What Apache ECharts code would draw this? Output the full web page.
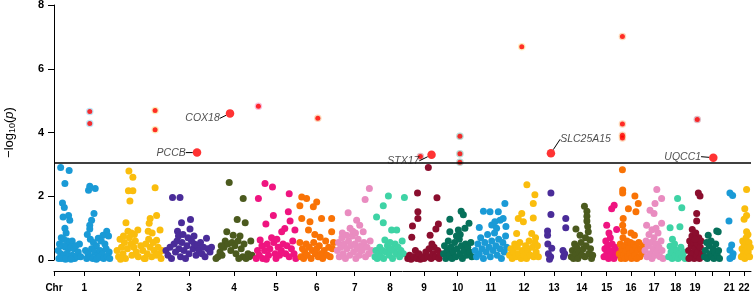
<!DOCTYPE html>
<html>
<head>
<meta charset="utf-8">
<script src="https://cdn.jsdelivr.net/npm/echarts@6/dist/echarts.min.js"></script>
<style>
	html, body { margin: 0; padding: 0; background: #fff; }
	#chart { width: 754px; height: 293px; }
</style>
</head>
<body>
<div id="chart"></div>
<script>
	// span of each chromosome along the genome axis (relative units)
	var chrLen = [60.6, 49.4, 50, 40, 44, 37.4, 38.6, 32, 36, 31.4, 34.6, 32, 28, 27.4, 22.6, 26, 20, 23.4, 15.2, 18.8, 15.8, 13.8]
	var chrColor = ['#1a9ad6', '#fabd0d', '#4a2c99', '#4b5a1e', '#ef1480', '#f97306', '#e98cc0', '#3ed3a5', '#8b0e2e', '#06705a']

	// [position along chromosome in %, -log10(p)]
	var chr1 = [[11,2.9],[25,2.81],[18,2.4],[14,1.79],[17,1.65],[15,1.35],[24,1.4],[26,1.25],[18,1.0],[20,0.85],[12,0.7],[16,0.65],[22,0.6],[26,0.55],[30,0.6],[9,0.5],[14,0.45],[19,0.4],[24,0.35],[28,0.4],[33,0.35],[36,0.45],[7,0.3],[11,0.2],[16,0.15],[21,0.2],[25,0.1],[30,0.15],[34,0.05],[38,0.1],[8,0.05],[13,0.05],[19,0.02],[28,0.02],[42,0.5],[40,0.25],[44,0.1],
		[57,2.19],[59,2.31],[68,2.24],[66,1.46],[62,1.25],[59,1.09],[59,0.97],[73,0.68],[87,0.9],[81,0.78],[55,0.8],[60,0.65],[65,0.55],[70,0.45],[78,0.6],[84,0.5],[90,0.75],[52,0.3],[56,0.2],[62,0.35],[67,0.25],[72,0.15],[76,0.3],[80,0.2],[86,0.35],[91,0.25],[54,0.05],[60,0.1],[64,0.05],[70,0.02],[75,0.08],[82,0.05],[88,0.1],[92,0.05]]
	var chr2 = [[11,0.65],[28,2.17],[29,2.79],[37,2.6],[37,2.17],[31,1.85],[23,1.17],[82,2.27],[72,1.3],[85,1.4],[70,1.15],[47,0.94],[92,0.94],[85,0.62],
		[5,0.3],[8,0.1],[14,0.4],[17,0.2],[20,0.55],[22,0.05],[26,0.35],[30,0.7],[33,0.5],[35,0.15],[39,0.4],[42,0.6],[44,0.25],[48,0.1],[40,0.8],[34,0.85],[27,0.9],[18,0.75],[53,0.45],[57,0.3],[60,0.05],[63,0.5],[66,0.2],[69,0.65],[72,0.4],[75,0.1],[78,0.55],[80,0.3],[84,0.15],[88,0.4],[90,0.2],[94,0.05],[96,0.3],[76,0.85],[68,0.9],[62,0.05],[12,0.02]]
	var chr3 = [[17,1.96],[32,1.96],[35,1.17],[53,1.27],[52,0.97],[27,0.9],[85,0.68],
		[4,0.3],[8,0.15],[12,0.4],[15,0.05],[20,0.5],[23,0.25],[26,0.6],[30,0.35],[33,0.1],[36,0.55],[40,0.3],[43,0.05],[46,0.45],[50,0.2],[55,0.6],[58,0.35],[61,0.5],[64,0.15],[67,0.45],[70,0.3],[73,0.55],[76,0.2],[79,0.4],[82,0.1],[88,0.35],[92,0.25],[95,0.4],[29,0.75],[38,0.8],[48,0.7],[60,0.75]]
	var chr4 = [[38,2.43],[73,1.93],[58,1.27],[78,1.17],[32,0.89],[48,0.78],[65,0.75],
		[5,0.05],[10,0.1],[15,0.25],[20,0.15],[25,0.4],[28,0.6],[35,0.5],[42,0.3],[45,0.55],[52,0.45],[55,0.2],[60,0.6],[68,0.35],[72,0.1],[75,0.5],[80,0.05],[85,0.2],[88,0.1],[92,0.6],[95,0.15],[18,0.45],[62,0.05]]
	var chr5 = [[25,2.4],[42,2.29],[10,1.93],[80,2.08],[78,1.51],[44,1.4],[82,1.22],[27,1.13],[63,0.89],[70,0.99],[93,0.94],[14,0.63],[40,0.7],
		[5,0.05],[8,0.3],[12,0.15],[18,0.45],[20,0.05],[24,0.3],[30,0.5],[33,0.15],[36,0.35],[45,0.55],[48,0.2],[50,0.05],[55,0.4],[58,0.15],[62,0.3],[66,0.5],[72,0.2],[75,0.45],[80,0.1],[85,0.35],[88,0.6],[91,0.2],[95,0.05],[28,0.02],[52,0.65]]
	var chr6 = [[10,1.98],[23,1.93],[50,1.82],[41,1.67],[5,1.7],[10,1.3],[32,1.2],[63,1.3],[90,1.3],[28,0.94],[59,0.71],[90,0.89],[5,0.55],
		[8,0.1],[12,0.35],[15,0.05],[18,0.25],[22,0.5],[25,0.15],[30,0.4],[35,0.05],[38,0.3],[42,0.55],[46,0.2],[50,0.35],[54,0.1],[57,0.45],[62,0.2],[66,0.05],[70,0.3],[74,0.6],[78,0.15],[82,0.4],[86,0.1],[92,0.35],[95,0.55],[45,0.8]]
	var chr7 = [[88,2.24],[77,1.9],[33,1.48],[55,1.25],[63,1.09],[38,1.0],[72,0.89],[29,0.78],
		[5,0.3],[8,0.55],[10,0.1],[14,0.4],[17,0.7],[20,0.2],[23,0.5],[26,0.05],[30,0.35],[34,0.6],[37,0.15],[40,0.45],[44,0.75],[47,0.25],[50,0.5],[53,0.05],[56,0.35],[59,0.65],[62,0.15],[66,0.45],[69,0.3],[74,0.55],[78,0.1],[82,0.4],[86,0.2],[90,0.6],[94,0.3],[45,0.9],[52,0.85],[18,0.85]]
	var chr8 = [[45,2.01],[95,1.96],[29,1.7],[8,1.35],[29,1.17],[55,0.94],[71,0.94],[34,0.63],
		[3,0.1],[6,0.3],[10,0.05],[14,0.2],[18,0.4],[22,0.1],[26,0.3],[30,0.05],[38,0.25],[42,0.45],[48,0.15],[52,0.35],[58,0.05],[62,0.3],[66,0.5],[70,0.2],[75,0.4],[80,0.1],[84,0.3],[88,0.6],[92,0.2],[50,0.55]]
	var chr9 = [[32,2.1],[86,1.95],[33,1.51],[33,1.3],[18,1.07],[83,0.97],[90,1.13],[67,0.78],[16,0.71],[62,2.9],
		[5,0.05],[10,0.15],[14,0.02],[22,0.1],[26,0.3],[30,0.05],[36,0.2],[40,0.02],[45,0.1],[50,0.05],[55,0.25],[60,0.1],[64,0.35],[70,0.05],[74,0.2],[78,0.4],[82,0.1],[88,0.3],[92,0.05],[95,0.2],[72,0.5]]
	var chr10 = [[61,1.53],[68,1.42],[25,1.28],[52,0.94],[86,1.15],[25,0.89],[73,1.0],
		[5,0.2],[8,0.45],[12,0.05],[16,0.3],[20,0.6],[24,0.15],[28,0.4],[32,0.05],[36,0.25],[40,0.55],[44,0.1],[48,0.35],[55,0.65],[58,0.2],[62,0.45],[65,0.05],[70,0.3],[75,0.5],[78,0.15],[82,0.4],[88,0.25],[92,0.55],[95,0.1],[58,0.8],[46,0.75]]
	var chr11 = [[91,1.77],[29,1.53],[48,1.51],[72,1.51],[77,1.25],[17,1.02],[53,1.1],[67,1.0],[86,1.3],[94,1.05],[62,1.2],
		[5,0.3],[9,0.1],[13,0.5],[17,0.2],[21,0.7],[25,0.35],[29,0.05],[33,0.55],[37,0.25],[41,0.8],[45,0.4],[49,0.1],[53,0.6],[57,0.3],[61,0.85],[65,0.45],[69,0.15],[73,0.65],[77,0.35],[81,0.05],[85,0.55],[89,0.25],[93,0.75],[96,0.4]]
	var chr12 = [[59,2.36],[84,2.05],[79,1.77],[43,1.46],[32,1.3],[48,1.2],[79,1.32],[27,0.83],[74,0.83],
		[5,0.15],[9,0.35],[13,0.05],[17,0.25],[21,0.5],[25,0.1],[29,0.4],[33,0.2],[37,0.55],[41,0.05],[45,0.3],[50,0.15],[55,0.45],[58,0.05],[62,0.3],[66,0.6],[70,0.15],[76,0.4],[80,0.1],[84,0.55],[88,0.25],[92,0.45],[95,0.1],[86,0.7]]
	var chr13 = [[39,2.1],[39,1.43],[27,0.91],[27,0.78],[92,1.3],[92,1.01],[42,0.37],[30,0.2],[38,0.1],[82,0.3],[84,0.1],[28,0.5],[34,0.02],[88,0.2]]
	var chr14 = [[60,1.69],[69,1.53],[69,1.37],[69,1.22],[29,0.97],[74,0.89],[44,0.78],[80,0.63],[72,1.05],
		[12,0.1],[16,0.3],[20,0.05],[24,0.5],[28,0.2],[32,0.4],[36,0.05],[40,0.25],[48,0.55],[52,0.15],[56,0.35],[62,0.1],[66,0.45],[76,0.2],[82,0.35],[86,0.05],[90,0.15],[64,0.7]]
	var chr15 = [[83,1.72],[72,1.61],[50,1.09],[94,0.96],
		[38,0.1],[42,0.35],[46,0.6],[50,0.2],[54,0.45],[58,0.05],[62,0.3],[66,0.7],[70,0.15],[74,0.5],[78,0.25],[82,0.05],[86,0.4],[90,0.15],[95,0.3],[60,0.85]]
	var chr16 = [[17,2.83],[18,2.2],[18,2.1],[65,2.01],[40,1.61],[69,1.51],[78,1.77],[18,1.09],[63,0.78],[20,1.3],
		[5,0.2],[9,0.5],[12,0.05],[15,0.35],[19,0.7],[22,0.15],[25,0.45],[28,0.05],[31,0.3],[35,0.6],[38,0.1],[42,0.4],[45,0.2],[48,0.55],[52,0.05],[56,0.3],[60,0.5],[64,0.15],[68,0.4],[72,0.05],[76,0.3],[80,0.55],[84,0.1],[88,0.35],[92,0.2],[96,0.45],[22,0.9],[50,0.85]]
	var chr17 = [[64,2.21],[88,1.93],[55,1.77],[30,1.56],[50,1.46],[88,1.15],[13,1.09],
		[5,0.3],[10,0.6],[15,0.1],[20,0.45],[25,0.8],[30,0.2],[35,0.55],[40,0.05],[45,0.35],[50,0.7],[55,0.15],[60,0.5],[65,0.25],[70,0.85],[75,0.4],[80,0.1],[85,0.6],[90,0.3],[95,0.05],[40,0.95],[60,1.0]]
	var chr18 = [[58,1.93],[76,1.64],[26,1.01],[68,1.04],[36,0.65],[26,0.43],
		[20,0.1],[30,0.25],[35,0.05],[42,0.35],[48,0.15],[55,0.3],[60,0.05],[65,0.2],[72,0.4],[78,0.1],[84,0.25],[90,0.05],[45,0.5]]
	var chr19 = [[72,2.1],[83,2.01],[61,1.46],[61,1.22],[32,0.96],
		[8,0.3],[15,0.6],[20,0.1],[25,0.45],[30,0.75],[35,0.2],[40,0.55],[45,0.05],[50,0.35],[55,0.85],[60,0.15],[65,0.5],[70,0.25],[75,0.7],[80,0.05],[85,0.4],[90,0.6],[95,0.2],[10,0.05],[50,0.65]]
	var chr20 = [[75,0.91],[83,0.89],[30,0.78],[22,0.55],
		[10,0.1],[15,0.3],[25,0.05],[35,0.45],[40,0.2],[45,0.6],[50,0.1],[55,0.35],[60,0.05],[65,0.25],[70,0.5],[78,0.15],[85,0.3],[90,0.05]]
	var chr21 = [[54,2.1],[71,2.02],[48,1.22],[65,0.47],[54,0.31],[54,0.05],[74,0.2],[70,0.1]]
	var chr22 = [[68,2.21],[55,1.61],[68,1.4],[50,1.28],[68,0.89],
		[30,0.1],[35,0.35],[40,0.6],[45,0.2],[50,0.5],[55,0.05],[60,0.3],[65,0.7],[70,0.15],[75,0.45],[80,0.25],[85,0.55],[90,0.1],[95,0.4],[78,0.8]]
	var chrPoints = [chr1, chr2, chr3, chr4, chr5, chr6, chr7, chr8, chr9, chr10, chr11,
		chr12, chr13, chr14, chr15, chr16, chr17, chr18, chr19, chr20, chr21, chr22]

	// genome-wide hits: [chr, position %, -log10(p)]
	var sigHits = [[1,59,4.66],[1,59,4.28],[2,82,4.69],[2,82,4.09],[5,10,4.82],[6,53,4.45],[9,40,3.25],
		[10,57,3.88],[10,57,3.33],[10,57,3.07],[12,43,6.69],[16,17,7.01],[16,17,4.27],[16,17,3.91],[16,17,3.83],[19,65,4.41]]
	// lead genes: [chr, position %, -log10(p), gene]
	var leadHits = [[3,66,3.37,'PCCB'],[4,40,4.6,'COX18'],[9,71,3.30,'STX17'],[13,39,3.35,'SLC25A15'],[20,57,3.21,'UQCC1']]
	var threshold = 3.04

	var chrStart = []
	var total = 0
	chrLen.forEach(function(l) {
		chrStart.push(total)
		total += l
	})
	var chrMid = chrLen.map(function(l, i) { return chrStart[i] + l / 2 })
	var tickVals = [0].concat(chrMid)

	function gx(chr, pos) {
		return chrStart[chr - 1] + pos / 100 * chrLen[chr - 1]
	}

	// label placement of the lead genes
	var leadLabel = {
		PCCB: { position: 'left', dx: -4, dy: 0 },
		COX18: { position: 'left', dx: -3, dy: 5 },
		STX17: { position: 'left', dx: -5, dy: 6 },
		SLC25A15: { position: 'right', dx: 2, dy: -14 },
		UQCC1: { position: 'left', dx: -5, dy: -1 }
	}

	var font = 'Liberation Sans, Arial, sans-serif'
	var series = []
	chrPoints.forEach(function(pts, i) {
		series.push({
			name: 'chr' + (i + 1),
			type: 'scatter',
			symbolSize: 7,
			itemStyle: { color: chrColor[i % 10], opacity: 1 },
			data: pts.map(function(p) { return [gx(i + 1, p[0]), p[1]] }),
			z: 2
		})
	})
	series[0].markLine = {
		silent: true,
		symbol: 'none',
		label: { show: false },
		lineStyle: { color: '#000', width: 1.5, type: 'solid' },
		data: [{ yAxis: threshold }]
	}
	// faint halo behind the significant points
	series.push({
		type: 'scatter',
		symbolSize: 7.5,
		z: 3,
		data: sigHits.map(function(h) {
			return { value: [gx(h[0], h[1]), h[2]], itemStyle: { color: chrColor[(h[0] - 1) % 10], opacity: 0.28 } }
		})
	})
	series.push({
		type: 'scatter',
		symbolSize: 5,
		z: 4,
		itemStyle: { color: '#ff0000' },
		data: sigHits.map(function(h) { return [gx(h[0], h[1]), h[2]] })
	})
	series.push({
		type: 'scatter',
		symbolSize: 8.5,
		z: 5,
		itemStyle: { color: '#ff0000' },
		data: leadHits.map(function(h) {
			return {
				value: [gx(h[0], h[1]), h[2]],
				name: h[3],
				label: { position: leadLabel[h[3]].position }
			}
		}),
		label: {
			show: true,
			formatter: '{b}',
			distance: 3,
			fontSize: 10.5,
			fontStyle: 'italic',
			fontFamily: font,
			color: '#222'
		},
		labelLine: { show: true, lineStyle: { color: '#000', width: 1 } },
		labelLayout: function(p) {
			var o = leadLabel[leadHits[p.dataIndex][3]]
			return { dx: o.dx, dy: o.dy }
		}
	})

	var chart = echarts.init(document.getElementById('chart'))
	var option = {
		animation: false,
		grid: { left: 54, right: 3, top: 5, bottom: 33, containLabel: false, outerBoundsMode: 'none' },
		xAxis: {
			type: 'value',
			min: 0,
			max: total,
			offset: 11,
			splitLine: { show: false },
			axisLine: { show: true, onZero: false, lineStyle: { color: '#000', width: 1 } },
			axisTick: { show: true, customValues: tickVals, length: 5, lineStyle: { color: '#000' } },
			axisLabel: {
				customValues: tickVals,
				margin: 12,
				fontSize: 10,
				fontWeight: 'bold',
				fontFamily: font,
				color: '#000',
				formatter: function(v) {
					if (v < 1) return 'Chr'
					for (var i = 0; i < chrMid.length; i++) {
						if (Math.abs(chrMid[i] - v) < 0.01) return i + 1 === 20 ? '' : String(i + 1)
					}
					return ''
				}
			}
		},
		yAxis: {
			type: 'value',
			min: 0,
			max: 8,
			interval: 2,
			name: '{n|\u2212log}{s|10}{n|(}{i|p}{n|)}',
			nameLocation: 'middle',
			nameGap: 37,
			nameTextStyle: {
				rich: {
					n: { fontSize: 13, fontFamily: font, color: '#000' },
					s: { fontSize: 9, fontFamily: font, color: '#000', padding: [6, 0, 0, 0] },
					i: { fontSize: 13, fontFamily: font, fontStyle: 'italic', color: '#000' }
				}
			},
			splitLine: { show: false },
			axisLine: { show: true, lineStyle: { color: '#000', width: 1 } },
			axisTick: { show: true, length: 6, lineStyle: { color: '#000' } },
			axisLabel: { margin: 10, fontSize: 11, fontWeight: 'bold', fontFamily: font, color: '#000' }
		},
		series: series
	}
	chart.setOption(option)
</script>
</body>
</html>
